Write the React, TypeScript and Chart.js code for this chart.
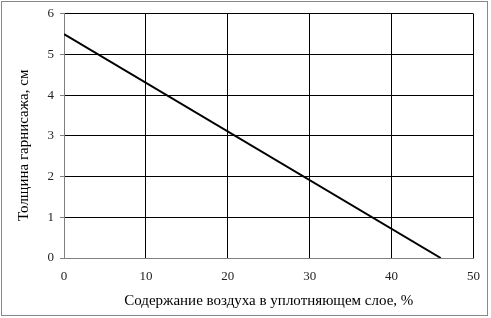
import React, { useEffect, useRef } from "react";
import { Chart, registerables } from "chart.js";

Chart.register(...registerables);

const xValues = [0, 46];
const yValues = [5.5, 0];
const xTitle = "Содержание воздуха в уплотняющем слое, %";
const yTitle = "Толщина гарнисажа, см";
const xMin = 0, xMax = 50, xStep = 10;
const yMin = 0, yMax = 6, yStep = 1;

export default function App() {
  const ref = useRef<HTMLCanvasElement>(null);
  useEffect(() => {
    document.body.style.margin = "0";
    const ctx = ref.current!;
    const font = { family: "'Liberation Serif', 'Times New Roman', serif", size: 13 };
    const chart = new Chart(ctx, {
      type: "scatter",
      data: {
        datasets: [
          {
            data: xValues.map((x, i) => ({ x, y: yValues[i] })),
            showLine: true,
            borderColor: "#000",
            borderWidth: 2,
            pointRadius: 0,
          },
        ],
      },
      options: {
        animation: false,
        responsive: false,
        layout: { padding: { left: 0, top: 11, right: 17, bottom: 0 } },
        plugins: { legend: { display: false }, tooltip: { enabled: false } },
        scales: {
          x: {
            type: "linear",
            min: xMin,
            max: xMax,
            ticks: { stepSize: xStep, color: "#222", font, padding: 11 },
            grid: { color: "#000", lineWidth: 1, drawTicks: false },
            border: { color: "#808080" },
            title: { display: true, text: xTitle, color: "#000", font: { ...font, size: 15 }, padding: { top: 0, bottom: 8 } },
            afterFit: (s: any) => { s.height = 60; },
          },
          y: {
            min: yMin,
            max: yMax,
            ticks: { stepSize: yStep, color: "#222", font, padding: 6 },
            grid: { color: "#000", lineWidth: 1, tickLength: 4, tickColor: "#808080" },
            border: { color: "#808080" },
            title: { display: true, text: yTitle + "     ", color: "#000", font: { ...font, size: 15 }, padding: { top: 15, bottom: 0 } },
            afterFit: (s: any) => { s.width = 64; },
          },
        },
      },
    });
    return () => chart.destroy();
  }, []);
  return (
    <div style={{ position: "relative", width: 491, height: 318, background: "#fff" }}>
      <canvas ref={ref} width={491} height={318} style={{ position: "absolute", left: 0, top: 0 }} />
      <div style={{ position: "absolute", left: 1, top: 1, width: 485, height: 313, border: "1px solid #888", pointerEvents: "none" }} />
    </div>
  );
}
